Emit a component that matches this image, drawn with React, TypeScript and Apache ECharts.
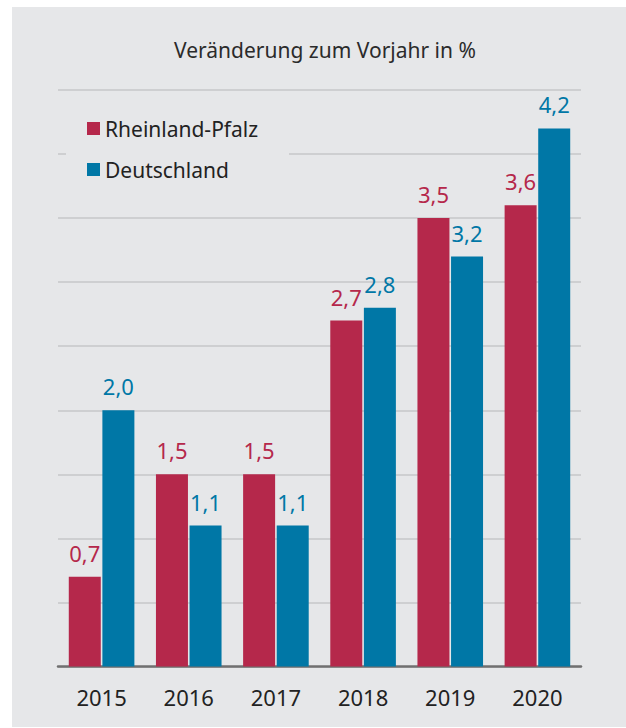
import React, { useEffect, useRef } from "react";
import * as echarts from "echarts";

const categories = ["2015", "2016", "2017", "2018", "2019", "2020"];
const rheinlandPfalz = [0.7, 1.5, 1.5, 2.7, 3.5, 3.6];
const deutschland = [2.0, 1.1, 1.1, 2.8, 3.2, 4.2];
const seriesNames = ["Rheinland-Pfalz", "Deutschland"];
const titleText = "Veränderung zum Vorjahr in %";

const RED = "#b5284b";
const BLUE = "#0077a6";
const BG = "#e6e7e9";
const FONT = "'Noto Sans', 'Open Sans', sans-serif";

export default function App() {
  const ref = useRef<HTMLDivElement>(null);
  useEffect(() => {
    if (!ref.current) return;
    const chart = echarts.init(ref.current, undefined, { renderer: "svg" });
    const fmt = (p: any) => String(p.value).replace(".", ",").replace(/^(\d)$/, "$1,0");
    chart.setOption({
      animation: false,
      backgroundColor: "transparent",
      textStyle: { fontFamily: FONT },
      title: {
        text: titleText,
        left: 169,
        top: 34,
        textStyle: { fontFamily: FONT, fontSize: 21, fontWeight: "normal", color: "#2b2b2b" },
      },
      legend: {
        orient: "vertical",
        left: 82,
        top: 113,
        itemWidth: 13,
        itemHeight: 13,
        itemGap: 20,
        icon: "rect",
        z: 10,
        textStyle: { fontFamily: FONT, fontSize: 21, color: "#222" },
        data: seriesNames,
      },
      graphic: [
        {
          type: "rect",
          z: 5,
          shape: { x: 66, y: 100, width: 223, height: 85 },
          style: { fill: BG },
        },
      ],
      grid: { left: 58, right: 45, top: 90, bottom: 61.5 },
      xAxis: {
        type: "category",
        data: categories,
        axisTick: { show: false },
        axisLine: { lineStyle: { color: "#707070", width: 2.5 } },
        axisLabel: { fontFamily: FONT, fontSize: 22, color: "#222", margin: 19 },
      },
      yAxis: {
        type: "value",
        min: 0,
        max: 4.5,
        interval: 0.5,
        axisLabel: { show: false },
        axisLine: { show: false },
        axisTick: { show: false },
        splitLine: { lineStyle: { color: "#c6c7c9", width: 1.5 } },
      },
      series: [
        {
          name: seriesNames[0],
          type: "bar",
          data: rheinlandPfalz,
          barWidth: 32,
          barGap: "5%",
          itemStyle: { color: RED },
          label: {
            show: true,
            position: "top",
            distance: 13,
            formatter: fmt,
            fontFamily: FONT,
            fontSize: 22,
            color: RED,
          },
        },
        {
          name: seriesNames[1],
          type: "bar",
          data: deutschland,
          barWidth: 32,
          itemStyle: { color: BLUE },
          label: {
            show: true,
            position: "top",
            distance: 13,
            formatter: fmt,
            fontFamily: FONT,
            fontSize: 22,
            color: BLUE,
          },
        },
      ],
    });
    return () => chart.dispose();
  }, []);
  return (
    <div style={{ position: "absolute", left: 0, top: 0, width: 626, height: 728, background: "#fff" }}>
      <div style={{ position: "absolute", left: 12, top: 7, width: 614, height: 720, background: BG }} />
      <div ref={ref} style={{ position: "absolute", left: 0, top: 0, width: 626, height: 728 }} />
    </div>
  );
}
